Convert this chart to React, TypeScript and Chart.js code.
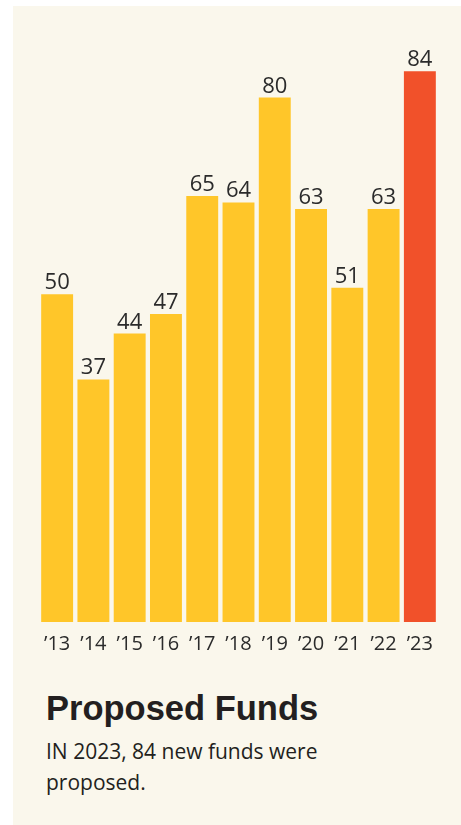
import React, { useEffect, useRef } from "react";
import { Chart, registerables } from "chart.js";

Chart.register(...registerables);

const categories = ["’13", "’14", "’15", "’16", "’17", "’18", "’19", "’20", "’21", "’22", "’23"];
const values = [50, 37, 44, 47, 65, 64, 80, 63, 51, 63, 84];
const barColors = ["#FFC629", "#FFC629", "#FFC629", "#FFC629", "#FFC629", "#FFC629", "#FFC629", "#FFC629", "#FFC629", "#FFC629", "#F1512A"];

const valueLabels = {
  id: "valueLabels",
  afterDatasetsDraw(chart: any) {
    const ctx = chart.ctx;
    const meta = chart.getDatasetMeta(0);
    ctx.save();
    ctx.fillStyle = "#2b2b2b";
    ctx.font = "22px 'Open Sans', 'Noto Sans', sans-serif";
    ctx.textAlign = "center";
    ctx.textBaseline = "alphabetic";
    meta.data.forEach((bar: any, i: number) => {
      ctx.fillText(String(values[i]), bar.x, bar.y - 5);
    });
    ctx.restore();
  },
};

export default function App() {
  const ref = useRef<HTMLCanvasElement>(null);
  useEffect(() => {
    if (!ref.current) return;
    const chart = new Chart(ref.current, {
      type: "bar",
      data: {
        labels: categories,
        datasets: [
          {
            data: values,
            backgroundColor: barColors,
            borderWidth: 0,
            barPercentage: 0.88,
            categoryPercentage: 1,
          },
        ],
      },
      options: {
        animation: false,
        responsive: false,
        maintainAspectRatio: false,
        layout: { padding: { top: 26, left: 26, right: 23, bottom: 0 } },
        plugins: { legend: { display: false }, tooltip: { enabled: false } },
        scales: {
          x: {
            grid: { display: false, drawTicks: false },
            border: { display: false },
            ticks: {
              color: "#2b2b2b",
              padding: 10,
              font: { family: "'Open Sans', 'Noto Sans', sans-serif", size: 20 },
              maxRotation: 0,
              autoSkip: false,
            },
          },
          y: { display: false, min: 0, max: 90 },
        },
      },
      plugins: [valueLabels],
    });
    return () => chart.destroy();
  }, []);

  return (
    <div
      style={{
        position: "fixed",
        left: 13,
        top: 6,
        width: 448,
        height: 819,
        background: "#FAF7EC",
      }}
    >
      <canvas ref={ref} width={448} height={660} style={{ position: "absolute", left: 0, top: 0, width: 448, height: 660 }} />
      <div
        style={{
          position: "absolute",
          left: 33,
          top: 682,
          fontFamily: "'Liberation Sans', Arial, sans-serif",
          fontWeight: "bold",
          fontSize: 34.5,
          color: "#231F20",
          lineHeight: "40px",
          whiteSpace: "nowrap",
        }}
      >
        Proposed Funds
      </div>
      <div
        style={{
          position: "absolute",
          left: 33,
          top: 730,
          width: 300,
          fontFamily: "'Open Sans', 'Noto Sans', sans-serif",
          fontSize: 21,
          color: "#231F20",
          lineHeight: "31px",
        }}
      >
        IN 2023, 84 new funds were proposed.
      </div>
    </div>
  );
}
